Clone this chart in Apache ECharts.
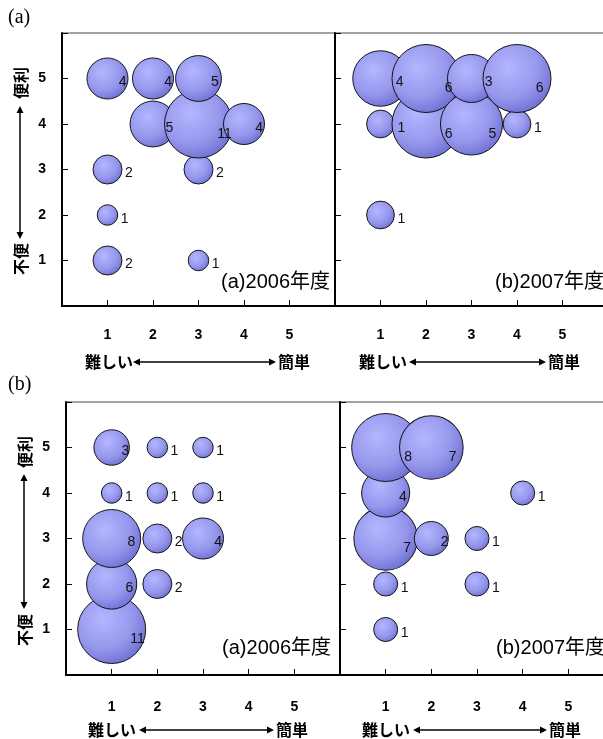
<!DOCTYPE html>
<html>
<head>
<meta charset="utf-8">
<script src="https://cdn.jsdelivr.net/npm/echarts@6/dist/echarts.min.js"></script>
<style>
html,body{margin:0;padding:0;background:#fff;}
#c{width:603px;height:739px;}
</style>
</head>
<body>
<div id="c"></div>
<script>
// ---- data ----
const xTickLabels = ['1','2','3','4','5'];
const yTickLabels = ['1','2','3','4','5'];
const panelTitles = ['(a)2006年度', '(b)2007年度'];
const figureTags = ['(a)', '(b)'];
const xNameLeft = '難しい';
const xNameRight = '簡単';
const yNameTop = '便利';
const yNameBottom = '不便';

// figure (a), panel 2006
const topA_x = [1, 1, 1, 1, 2, 2, 3, 3, 3, 3, 4];
const topA_y = [1, 2, 3, 5, 4, 5, 1, 3, 4, 5, 4];
const topA_n = [2, 1, 2, 4, 5, 4, 1, 2, 11, 5, 4];
// figure (a), panel 2007
const topB_x = [1, 1, 1, 2, 2, 3, 3, 4, 4];
const topB_y = [2, 4, 5, 4, 5, 4, 5, 4, 5];
const topB_n = [1, 1, 4, 6, 6, 5, 3, 1, 6];
// figure (b), panel 2006
const botA_x = [1, 1, 1, 1, 1, 2, 2, 2, 2, 3, 3, 3];
const botA_y = [1, 2, 3, 4, 5, 2, 3, 4, 5, 3, 4, 5];
const botA_n = [11, 6, 8, 1, 3, 2, 2, 1, 1, 4, 1, 1];
// figure (b), panel 2007
const botB_x = [1, 1, 1, 1, 1, 2, 2, 3, 3, 4];
const botB_y = [1, 2, 3, 4, 5, 3, 5, 2, 3, 4];
const botB_n = [1, 1, 7, 4, 8, 2, 7, 1, 1, 1];

// ---- layout / style ----
const grids = [
  {left: 62, top: 33, width: 273, height: 273},
  {left: 335, top: 33, width: 273, height: 273},
  {left: 66, top: 402, width: 274, height: 273},
  {left: 340, top: 402, width: 274, height: 273}
];
const panels = [
  [topA_x, topA_y, topA_n],
  [topB_x, topB_y, topB_n],
  [botA_x, botA_y, botA_n],
  [botB_x, botB_y, botB_n]
];
const DMAX = 68;
const bubbleColor = {
  type: 'radial', x: 0.38, y: 0.35, r: 0.72,
  colorStops: [
    {offset: 0, color: '#b3b6ff'},
    {offset: 0.6, color: '#9597ec'},
    {offset: 1, color: '#6a6cd0'}
  ]
};
const SANS = '"Liberation Sans", Arial, sans-serif';
const JP = '"Noto Sans CJK JP", sans-serif';

function fmtTick(labels) {
  return function (v) { const i = Math.round(v) - 1; return (i >= 0 && i < labels.length) ? labels[i] : ''; };
}

const xAxes = [], yAxes = [], series = [];
grids.forEach((g, i) => {
  const top = i < 2;
  xAxes.push({
    type: 'value', gridIndex: i, min: 0, max: 6, interval: 1,
    axisLine: {show: true, lineStyle: {color: '#000', width: 2}},
    axisTick: {show: true, inside: true, length: 6, lineStyle: {color: '#000', width: 1}},
    axisLabel: {show: true, formatter: fmtTick(xTickLabels), color: '#000', fontWeight: 'bold', fontSize: 14, fontFamily: SANS, margin: top ? 22 : 25},
    splitLine: {show: false}
  });
  yAxes.push({
    type: 'value', gridIndex: i, min: 0, max: 6, interval: 1,
    axisLine: {show: true, lineStyle: {color: '#000', width: 2}},
    axisTick: {show: true, inside: true, length: 6, lineStyle: {color: '#000', width: 1}},
    axisLabel: {show: i % 2 === 0, formatter: fmtTick(yTickLabels), color: '#000', fontWeight: 'bold', fontSize: 14, fontFamily: SANS, margin: 16},
    splitLine: {show: false}
  });
  const [xs, ys, ns] = panels[i];
  const max = Math.max.apply(null, ns);
  const data = xs.map((x, k) => {
    const n = ns[k];
    const r = DMAX / 2 * Math.sqrt(n / max);
    const dx = r < 16 ? r + 3 : r * 0.55;
    const dy = r > 30 ? 10 : 4;
    return {value: [x, ys[k], n], symbolSize: 2 * r, label: {offset: [dx, dy]}};
  });
  series.push({
    type: 'scatter', xAxisIndex: i, yAxisIndex: i, data: data,
    itemStyle: {color: bubbleColor, borderColor: '#151515', borderWidth: 1, opacity: 1},
    label: {show: true, position: 'inside', align: 'left', verticalAlign: 'middle',
      formatter: p => String(p.value[2]), color: '#111', fontSize: 14, fontFamily: SANS},
    emphasis: {disabled: true},
    animation: false
  });
});

// ---- decorations (text + arrows) ----
const graphic = [];
function txt(text, x, y, font, align, rot) {
  graphic.push({type: 'text', x: x, y: y, rotation: rot || 0,
    style: {text: text, font: font, fill: '#000', align: align || 'center', verticalAlign: 'middle'}});
}
function hArrow(x1, x2, y) {
  graphic.push({type: 'line', shape: {x1: x1 + 5, y1: y, x2: x2 - 5, y2: y}, style: {stroke: '#000', lineWidth: 1.5}});
  graphic.push({type: 'polygon', shape: {points: [[x1, y], [x1 + 7, y - 3.5], [x1 + 7, y + 3.5]]}, style: {fill: '#000'}});
  graphic.push({type: 'polygon', shape: {points: [[x2, y], [x2 - 7, y - 3.5], [x2 - 7, y + 3.5]]}, style: {fill: '#000'}});
}
function vArrow(x, y1, y2) {
  graphic.push({type: 'line', shape: {x1: x, y1: y1 + 5, x2: x, y2: y2 - 5}, style: {stroke: '#000', lineWidth: 1.5}});
  graphic.push({type: 'polygon', shape: {points: [[x, y1], [x - 3.5, y1 + 7], [x + 3.5, y1 + 7]]}, style: {fill: '#000'}});
  graphic.push({type: 'polygon', shape: {points: [[x, y2], [x - 3.5, y2 - 7], [x + 3.5, y2 - 7]]}, style: {fill: '#000'}});
}
const serifFont = '20px "Liberation Serif", "Times New Roman", serif';
const nameFont = 'bold 16px ' + JP;
const titleFont = '20px "Liberation Sans", "Noto Sans CJK JP", sans-serif';

txt(figureTags[0], 8, 18, serifFont, 'left');
txt(figureTags[1], 8, 385, serifFont, 'left');

// panel titles
txt(panelTitles[0], 330, 282, titleFont, 'right');
txt(panelTitles[1], 604, 282, titleFont, 'right');
txt(panelTitles[0], 331, 648, titleFont, 'right');
txt(panelTitles[1], 605, 648, titleFont, 'right');

// x axis names
[[85, 132, 277, 362], [359, 408, 547, 362], [88, 138, 275, 730], [362, 412, 548, 730]].forEach(a => {
  txt(xNameLeft, a[0], a[3], nameFont, 'left');
  hArrow(a[1] + 1, a[2] - 1, a[3]);
  txt(xNameRight, a[2] + 1, a[3], nameFont, 'left');
});

// y axis names
[[21, 83, 106, 239, 259], [25, 452, 474, 609, 630]].forEach(a => {
  txt(yNameTop, a[0], a[1], nameFont, 'center', Math.PI / 2);
  vArrow(a[0] - 1, a[2], a[3]);
  txt(yNameBottom, a[0], a[4], nameFont, 'center', Math.PI / 2);
});

const chart = echarts.init(document.getElementById('c'), null, {renderer: 'canvas'});
chart.setOption({
  animation: false,
  backgroundColor: '#fff',
  grid: grids.map(g => Object.assign({show: true, borderColor: '#444', borderWidth: 1, backgroundColor: 'transparent', containLabel: false, outerBoundsMode: 'none'}, g)),
  xAxis: xAxes,
  yAxis: yAxes,
  series: series,
  graphic: graphic
});
</script>
</body>
</html>
